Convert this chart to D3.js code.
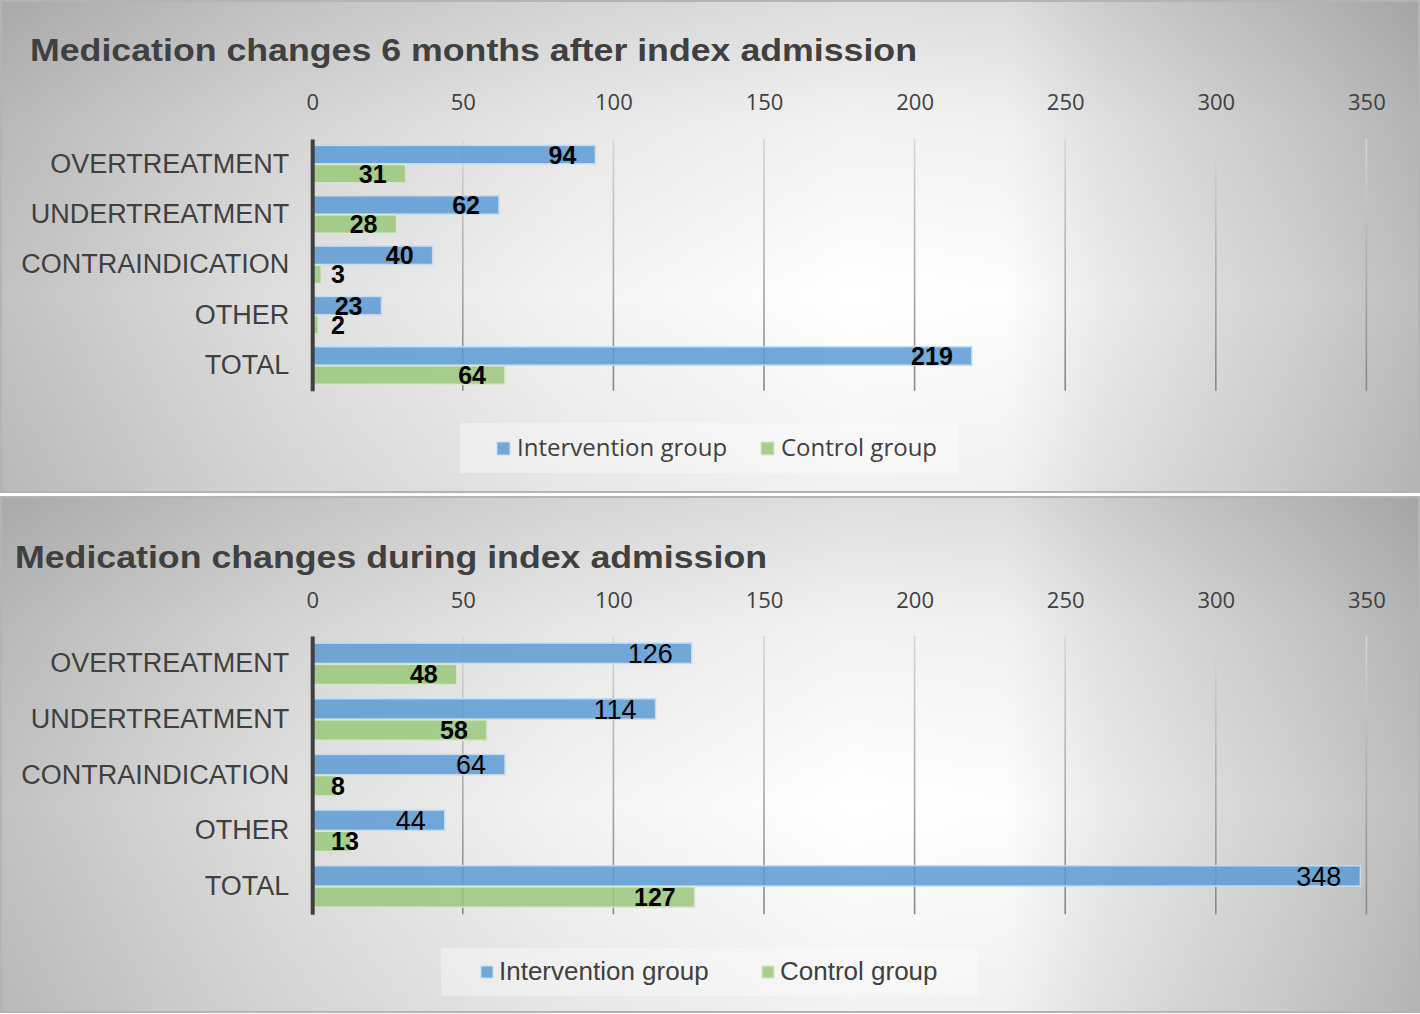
<!DOCTYPE html>
<html>
<head>
<meta charset="utf-8">
<script src="https://cdn.jsdelivr.net/npm/d3@7"></script>
<style>
  body { margin: 0; background: #ffffff; }
  svg { display: block; }
</style>
</head>
<body>
<svg id="chart" width="1420" height="1014"></svg>
<script>
// ---------------- DATA ----------------
const categories = ["OVERTREATMENT", "UNDERTREATMENT", "CONTRAINDICATION", "OTHER", "TOTAL"];
const seriesNames = ["Intervention group", "Control group"];
const sixMonthIntervention = [94, 62, 40, 23, 219];
const sixMonthControl = [31, 28, 3, 2, 64];
const admissionIntervention = [126, 114, 64, 44, 348];
const admissionControl = [48, 58, 8, 13, 127];
const xTickValues = [0, 50, 100, 150, 200, 250, 300, 350];
const panelTitles = [
  "Medication changes 6 months after index admission",
  "Medication changes during index admission"
];

// ---------------- LAYOUT ----------------
const W = 1420;
const seriesFill = ["#5b9bd5", "#9ac87a"];
const seriesStroke = ["#c4dbf0", "#d6eac9"];
const textGrey = "#404040";

const panels = [
  {
    top: 1, height: 491, title: panelTitles[0], titleX: 30, titleW: 887, titleBase: 61,
    tickY: 102.5, plotTop: 139, plotBottom: 390.7,
    labelStyle: [{ weight: "bold", size: 25 }, { weight: "bold", size: 25 }],
    legend: { x: 460, y: 423, w: 498, h: 50, font: "'Open Sans', sans-serif", size: 24,
              sq: 13, sqY: 442, items: [{ sq: 497, tx: 517 }, { sq: 761, tx: 781 }], base: 456 },
    interv: sixMonthIntervention, ctrl: sixMonthControl
  },
  {
    top: 497, height: 515, title: panelTitles[1], titleX: 15, titleW: 752, titleBase: 568,
    tickY: 600.5, plotTop: 636, plotBottom: 914.3,
    labelStyle: [{ weight: "normal", size: 27 }, { weight: "bold", size: 25 }],
    legend: { x: 441, y: 948, w: 537, h: 48, font: "'Liberation Sans', Arial, sans-serif", size: 26,
              sq: 12, sqY: 966, items: [{ sq: 481, tx: 499 }, { sq: 762, tx: 780 }], base: 980 },
    interv: admissionIntervention, ctrl: admissionControl
  }
];

const svg = d3.select("#chart");
const defs = svg.append("defs");

// horizontal background gradient (shared shape)
const hg = defs.append("linearGradient").attr("id", "hbg")
  .attr("x1", 0).attr("y1", 0).attr("x2", 1).attr("y2", 0);
[[0, "#c2c2c2"], [0.1, "#d1d1d1"], [0.2, "#dfdfdf"], [0.4, "#f3f3f3"], [0.6, "#ffffff"],
 [0.71, "#fdfdfd"], [0.78, "#eaeaea"], [0.85, "#dcdcdc"], [0.92, "#cfcfcf"], [1, "#bdbdbd"]]
  .forEach(([o, c]) => hg.append("stop").attr("offset", o).attr("stop-color", c));

const vg = defs.append("linearGradient").attr("id", "vbg")
  .attr("x1", 0).attr("y1", 0).attr("x2", 0).attr("y2", 1);
[[0, 0.13], [0.25, 0.05], [0.6, 0], [1, 0.05]]
  .forEach(([o, a]) => vg.append("stop").attr("offset", o).attr("stop-color", "#000").attr("stop-opacity", a));

const x = d3.scaleLinear().domain([0, 350]).range([312.2, 1366.4]);

panels.forEach((p, pi) => {
  const g = svg.append("g");

  // background
  g.append("rect").attr("x", 1).attr("y", p.top).attr("width", W - 2).attr("height", p.height)
    .attr("fill", "url(#hbg)");
  g.append("rect").attr("x", 1).attr("y", p.top).attr("width", W - 2).attr("height", p.height)
    .attr("fill", "url(#vbg)");
  g.append("rect").attr("x", 1).attr("y", p.top).attr("width", W - 2).attr("height", p.height)
    .attr("fill", "none").attr("stroke", "#b4b4b4").attr("stroke-width", 2);

  // title
  g.append("text").attr("x", p.titleX).attr("y", p.titleBase)
    .attr("textLength", p.titleW).attr("lengthAdjust", "spacingAndGlyphs")
    .style("font-family", "'Liberation Sans', Arial, sans-serif")
    .style("font-weight", "bold").style("font-size", "32px").attr("fill", textGrey)
    .text(p.title);

  // scales
  const y = d3.scaleBand().domain(categories).range([p.plotTop, p.plotBottom])
    .paddingInner(0.255).paddingOuter(0.1275);
  const ys = d3.scaleBand().domain(seriesNames).range([0, y.bandwidth()]).paddingInner(0.04);

  // gridline gradient
  const gg = defs.append("linearGradient").attr("id", "grid" + pi)
    .attr("gradientUnits", "userSpaceOnUse")
    .attr("x1", 0).attr("y1", p.plotTop).attr("x2", 0).attr("y2", p.plotBottom);
  gg.append("stop").attr("offset", 0).attr("stop-color", "#d6d6d6");
  gg.append("stop").attr("offset", 1).attr("stop-color", "#878787");

  // gridlines
  g.append("g").selectAll("line").data(xTickValues.filter(v => v > 0)).join("line")
    .attr("x1", d => x(d)).attr("x2", d => x(d))
    .attr("y1", p.plotTop).attr("y2", p.plotBottom)
    .attr("stroke", `url(#grid${pi})`).attr("stroke-width", 1.6);

  // x tick labels (top axis)
  const ax = g.append("g").attr("transform", `translate(0,${p.tickY})`)
    .call(d3.axisTop(x).tickValues(xTickValues).tickSize(0).tickPadding(0));
  ax.select(".domain").remove();
  ax.selectAll("text").attr("y", 0).attr("dy", "0.36em")
    .style("font-family", "'Open Sans', sans-serif").style("font-size", "22px")
    .attr("fill", textGrey);

  // bars
  const rows = [];
  categories.forEach((c, i) => {
    rows.push({ cat: c, s: 0, value: p.interv[i] });
    rows.push({ cat: c, s: 1, value: p.ctrl[i] });
  });

  g.append("g").selectAll("rect").data(rows).join("rect")
    .attr("x", x(0))
    .attr("y", d => y(d.cat) + ys(seriesNames[d.s]))
    .attr("width", d => x(d.value) - x(0))
    .attr("height", ys.bandwidth())
    .attr("fill", d => seriesFill[d.s]).attr("fill-opacity", 0.85)
    .attr("stroke", d => seriesStroke[d.s]).attr("stroke-width", 1.5);

  // category axis
  const cy = g.append("g").attr("transform", `translate(${x(0)},0)`)
    .call(d3.axisLeft(y).tickSize(0).tickPadding(23));
  cy.select(".domain").attr("stroke", "#404040").attr("stroke-width", 4);
  cy.selectAll("text")
    .style("font-family", "'Liberation Sans', Arial, sans-serif").style("font-size", "27px")
    .attr("fill", textGrey);

  // data labels
  g.append("g").selectAll("text").data(rows).join("text")
    .attr("y", d => y(d.cat) + ys(seriesNames[d.s]) + ys.bandwidth() / 2)
    .attr("dy", "0.36em")
    .attr("text-anchor", "start")
    .style("font-family", "'Liberation Sans', Arial, sans-serif")
    .style("font-weight", d => p.labelStyle[d.s].weight)
    .style("font-size", d => p.labelStyle[d.s].size + "px")
    .attr("fill", "#000")
    .text(d => d.value)
    .each(function (d) {
      const w = this.getComputedTextLength();
      d3.select(this).attr("x", Math.max(x(d.value) - 19 - w, 331));
    });

  // legend
  const L = p.legend;
  g.append("rect").attr("x", L.x).attr("y", L.y).attr("width", L.w).attr("height", L.h)
    .attr("fill", "#ffffff").attr("fill-opacity", 0.35);
  const li = g.append("g").selectAll("g").data(seriesNames).join("g");
  li.append("rect")
    .attr("x", (d, i) => L.items[i].sq).attr("y", L.sqY)
    .attr("width", L.sq).attr("height", L.sq)
    .attr("fill", (d, i) => seriesFill[i]).attr("fill-opacity", 0.85)
    .attr("stroke", (d, i) => seriesStroke[i]).attr("stroke-width", 1);
  li.append("text")
    .attr("x", (d, i) => L.items[i].tx).attr("y", L.base)
    .style("font-family", L.font).style("font-size", L.size + "px")
    .attr("fill", textGrey)
    .text(d => d);
});
</script>
</body>
</html>
